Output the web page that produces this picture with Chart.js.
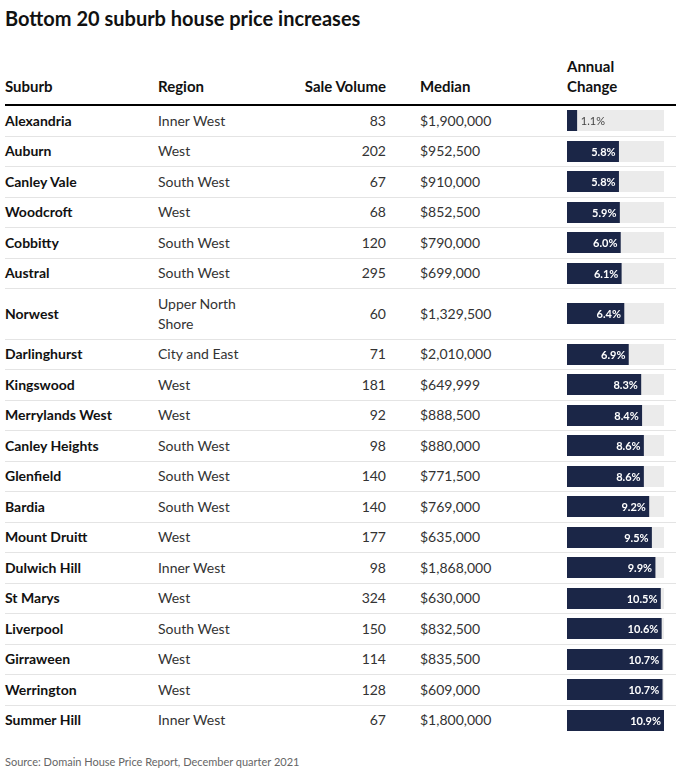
<!DOCTYPE html>
<html>
<head>
<meta charset="utf-8">
<script src="https://cdn.jsdelivr.net/npm/chart.js@4.4.1/dist/chart.umd.min.js"></script>
<style>
body{margin:0;background:#fff;font-family:Lato,sans-serif;color:#222;}
#wrap{position:absolute;left:5px;top:0;width:671px;height:771px;}
h1{position:absolute;left:0;top:5px;margin:0;font-size:20px;line-height:26px;font-weight:700;color:#111;}
table{position:absolute;left:0;top:56px;width:671px;border-collapse:collapse;table-layout:fixed;}
th{font-size:15px;font-weight:700;text-align:left;vertical-align:bottom;line-height:20px;padding:0 0 8px 0;border-bottom:2px solid #000;color:#111;}
td{font-size:14px;line-height:20px;padding:4.75px 0;border-bottom:1px solid #e4e4e4;vertical-align:middle;color:#333;}
tr:last-child td{border-bottom:none;}
td.sub{font-weight:700;color:#111;}
.num{text-align:right;}
.med{padding-left:34px;}
th.med{padding-left:34px;}
canvas.bar{display:block;margin:-0.5px 0;background:#ebebeb;}
#src{position:absolute;left:0;top:754px;font-size:11px;line-height:16px;color:#666;}
</style>
</head>
<body>
<div id="wrap">
  <h1>Bottom 20 suburb house price increases</h1>
  <table id="tbl">
    <colgroup>
      <col style="width:153px"><col style="width:100px"><col style="width:128px"><col style="width:181px"><col style="width:109px">
    </colgroup>
    <thead>
      <tr><th>Suburb</th><th>Region</th><th class="num">Sale Volume</th><th class="med">Median</th><th>Annual<br>Change</th></tr>
    </thead>
    <tbody id="rows"></tbody>
  </table>
  <div id="src">Source: Domain House Price Report, December quarter 2021</div>
</div>
<script>
// donnees du tableau
var suburbs = ['Alexandria', 'Auburn', 'Canley Vale', 'Woodcroft', 'Cobbitty', 'Austral', 'Norwest', 'Darlinghurst', 'Kingswood', 'Merrylands West',
    'Canley Heights', 'Glenfield', 'Bardia', 'Mount Druitt', 'Dulwich Hill', 'St Marys', 'Liverpool', 'Girraween', 'Werrington', 'Summer Hill'];
var regions = ['Inner West', 'West', 'South West', 'West', 'South West', 'South West', 'Upper North Shore', 'City and East', 'West', 'West',
    'South West', 'South West', 'South West', 'West', 'Inner West', 'West', 'South West', 'West', 'West', 'Inner West'];
var volumes = [83, 202, 67, 68, 120, 295, 60, 71, 181, 92, 98, 140, 140, 177, 98, 324, 150, 114, 128, 67];
var medians = [1900000, 952500, 910000, 852500, 790000, 699000, 1329500, 2010000, 649999, 888500,
    880000, 771500, 769000, 635000, 1868000, 630000, 832500, 835500, 609000, 1800000];
var changes = [1.1, 5.8, 5.8, 5.9, 6.0, 6.1, 6.4, 6.9, 8.3, 8.4, 8.6, 8.6, 9.2, 9.5, 9.9, 10.5, 10.6, 10.7, 10.7, 10.9];
var trackMax = 10.9;

var BAR_COLOR = '#1b2647';

// label dans la barre (blanc) ou a cote (gris) si trop petite
var barLabel = {
    id: 'barLabel',
    afterDatasetsDraw: function(chart) {
        var ctx = chart.ctx;
        var bar = chart.getDatasetMeta(0).data[0];
        var txt = chart.data.datasets[0].data[0].toFixed(1) + '%';
        ctx.save();
        ctx.textBaseline = 'middle';
        ctx.font = 'bold 11px Lato';
        var w = ctx.measureText(txt).width;
        if (bar.x - bar.base > w + 8) {
            ctx.fillStyle = '#fff';
            ctx.textAlign = 'right';
            ctx.fillText(txt, bar.x - 3, bar.y + 1);
        } else {
            ctx.font = '11px Lato';
            ctx.fillStyle = '#444';
            ctx.textAlign = 'left';
            ctx.fillText(txt, bar.x + 4, bar.y + 1);
        }
        ctx.restore();
    }
};

var tbody = document.getElementById('rows');
for (var i = 0; i < suburbs.length; i++) {
    var tr = document.createElement('tr');
    tr.innerHTML = '<td class="sub">' + suburbs[i] + '</td>' +
        '<td>' + regions[i] + '</td>' +
        '<td class="num">' + volumes[i] + '</td>' +
        '<td class="med">$' + medians[i].toLocaleString('en-US') + '</td>' +
        '<td></td>';
    var cv = document.createElement('canvas');
    cv.className = 'bar';
    cv.width = 97;
    cv.height = 21;
    tr.lastChild.appendChild(cv);
    tbody.appendChild(tr);

    new Chart(cv, {
        type: 'bar',
        data: {
            labels: [suburbs[i]],
            datasets: [{
                data: [changes[i]],
                backgroundColor: BAR_COLOR,
                borderWidth: 0,
                barPercentage: 1,
                categoryPercentage: 1
            }]
        },
        options: {
            indexAxis: 'y',
            responsive: false,
            animation: false,
            events: [],
            layout: {padding: 0},
            plugins: {legend: {display: false}, tooltip: {enabled: false}},
            scales: {
                x: {display: false, min: 0, max: trackMax},
                y: {display: false}
            }
        },
        plugins: [barLabel]
    });
}
</script>
</body>
</html>
